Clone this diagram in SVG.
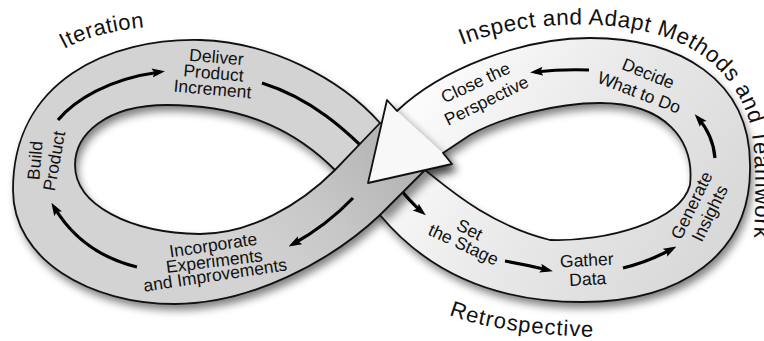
<svg xmlns="http://www.w3.org/2000/svg" width="764" height="341" viewBox="0 0 764 341">
<defs>
<style>
.edge{fill:none;stroke:#111;stroke-width:1.8;stroke-linejoin:round;stroke-linecap:round}
.flow{fill:none;stroke:#000;stroke-width:3.2;marker-end:url(#ah)}
.lbl{font-family:"Liberation Sans",Arial,Helvetica,sans-serif;font-size:17.5px;fill:#111;text-anchor:middle}
.big{font-family:"Liberation Sans",Arial,Helvetica,sans-serif;font-size:22px;fill:#111}
</style>
<marker id="ah" markerUnits="userSpaceOnUse" viewBox="0 0 13 10" markerWidth="13" markerHeight="10" refX="8" refY="5" orient="auto"><path d="M0,0.5 L13,5 L0,9.5 L2.5,5 Z" fill="#000"/></marker>
<filter id="soft" x="-20%" y="-20%" width="140%" height="140%"><feGaussianBlur stdDeviation="4"/></filter>
<linearGradient id="gRight" gradientUnits="userSpaceOnUse" x1="430" y1="90" x2="700" y2="280"><stop offset="0" stop-color="#fbfbfb"/><stop offset="0.45" stop-color="#e9e9e9"/><stop offset="1" stop-color="#d8d8d8"/></linearGradient>
<linearGradient id="gOver" gradientUnits="userSpaceOnUse" x1="405" y1="145" x2="250" y2="275"><stop offset="0" stop-color="#b2b2b2"/><stop offset="0.55" stop-color="#c8c8c8"/><stop offset="1" stop-color="#d3d3d3"/></linearGradient>
<path id="pLeft" fill-rule="evenodd" d="M380,123 C340,78 270,42 200,40 C110,38 13,80 13,190 C13,260 90,304 175,304 C250,304 330,262 380,215 L425,170 Z M335,170 C300,135 250,105 167,105 C105,105 75,135 75,165 C75,205 130,233 200,234 C250,234 300,205 335,170 Z"/>
<path id="pRight" fill-rule="evenodd" d="M380,215 C430,275 500,302 582,302 C680,302 752,255 750,165 C750,80 680,38 590,38 C520,38 440,70 397,111 L425,170 Z M425,170 C450,190 490,225 550,240 C605,242 680,222 690,185 C695,140 665,103 600,103 C555,103 500,118 470,135 L443,153 L452,164 Z"/>
<path id="pOver" d="M380,123 L335,170 C300,205 250,234 200,234 L175,304 C250,304 330,262 380,215 L425,170 Z"/>
<path id="pCross" d="M380,123 L335,170 L380,215 L425,170 Z"/>
<path id="pArrow" d="M397,111 L387,100 L368,183 L452,164 L443,153 Z"/>
<path id="tIter" d="M64,49 C86,37 116,29 160,26"/>
<path id="tRetro" d="M449,315 C480,327 530,336 605,337"/>
<path id="tInsp" d="M462,45 C520,22 605,17 665,37 C712,53 742,88 751,128 C757,160 756,220 752,270"/>
</defs>
<rect width="764" height="341" fill="#fff"/>
<g id="band">
  <g filter="url(#soft)" opacity="0.5" transform="translate(3,6)" fill="#000">
    <use href="#pLeft"/><use href="#pRight"/><use href="#pArrow"/>
  </g>
  <use href="#pRight" fill="url(#gRight)"/>
  <use href="#pLeft" fill="#d3d3d3"/>
  <g filter="url(#soft)" opacity="0.45" transform="translate(6,7)" fill="#000">
    <use href="#pCross"/><use href="#pArrow"/>
  </g>
</g>
<g id="connectors">
  <path class="flow" d="M262,83 C310,98 345,128 380,165 C395,182 405,198 422,212"/>
</g>
<g id="crossing">
  <use href="#pOver" fill="url(#gOver)"/>
  <path class="edge" d="M380,123 C340,78 270,42 200,40 C110,38 13,80 13,190 C13,260 90,304 175,304 C250,304 330,262 380,215 L425,170"/>
  <path class="edge" d="M335,170 C300,135 250,105 167,105 C105,105 75,135 75,165 C75,205 130,233 200,234 C250,234 300,205 335,170 L380,123"/>
  <path class="edge" d="M380,215 C430,275 500,302 582,302 C680,302 752,255 750,165 C750,80 680,38 590,38 C520,38 440,70 397,111"/>
  <path class="edge" d="M425,170 C450,190 490,225 550,240 C605,242 680,222 690,185 C695,140 665,103 600,103 C555,103 500,118 470,135 L443,153"/>
  <use href="#pArrow" fill="#f8f8f8"/>
  <path class="edge" d="M397,111 L387,100 L368,183 L452,164 L443,153"/>
</g>
<g id="connectors2">
  <path class="flow" d="M58,120 C75,100 108,79 160,72"/>
  <path class="flow" d="M505,261 Q528,265 548,270"/>
  <path class="flow" d="M623,268 Q648,262 672,249"/>
  <path class="flow" d="M715,158 Q713,135 698,118"/>
  <path class="flow" d="M589,70 Q562,69 535,72"/>
  <path class="flow" d="M137,267 C100,258 72,237 54,207"/>
  <path class="flow" d="M353,198 Q326,226 293,244"/>
</g>
<g id="n-deliver">
  <text class="lbl" transform="translate(216,63) rotate(5)">Deliver</text>
  <text class="lbl" transform="translate(213,79) rotate(5)">Product</text>
  <text class="lbl" transform="translate(212,95) rotate(5)">Increment</text>
</g>
<g id="n-build">
  <text class="lbl" transform="translate(41,161) rotate(-85)">Build</text>
  <text class="lbl" transform="translate(60,162) rotate(-80)">Product</text>
</g>
<g id="n-incorporate">
  <text class="lbl" transform="translate(214,251) rotate(-8.5)">Incorporate</text>
  <text class="lbl" transform="translate(215,267) rotate(-7)">Experiments</text>
  <text class="lbl" transform="translate(216,281) rotate(-8.5)">and Improvements</text>
</g>
<g id="n-close">
  <text class="lbl" transform="translate(478,88) rotate(-25)">Close the</text>
  <text class="lbl" transform="translate(489,106) rotate(-26)">Perspective</text>
</g>
<g id="n-decide">
  <text class="lbl" transform="translate(646,79) rotate(22)">Decide</text>
  <text class="lbl" transform="translate(637,98) rotate(21)">What to Do</text>
</g>
<g id="n-generate">
  <text class="lbl" transform="translate(697,208) rotate(-64)">Generate</text>
  <text class="lbl" transform="translate(715,216) rotate(-64)">Insights</text>
</g>
<g id="n-setstage">
  <text class="lbl" transform="translate(467,235) rotate(27)">Set</text>
  <text class="lbl" transform="translate(461,250) rotate(25)">the Stage</text>
</g>
<g id="n-gather">
  <text class="lbl" transform="translate(587,266) rotate(-3)">Gather</text>
  <text class="lbl" transform="translate(588,285) rotate(-3)">Data</text>
</g>
<g id="l-iteration"><text class="big" letter-spacing="0.5"><textPath href="#tIter">Iteration</textPath></text></g>
<g id="l-retro"><text class="big" letter-spacing="1"><textPath href="#tRetro">Retrospective</textPath></text></g>
<g id="l-inspect"><text class="big" style="font-size:22.5px" letter-spacing="0.6"><textPath href="#tInsp">Inspect and Adapt Methods and Teamwork</textPath></text></g>
</svg>
